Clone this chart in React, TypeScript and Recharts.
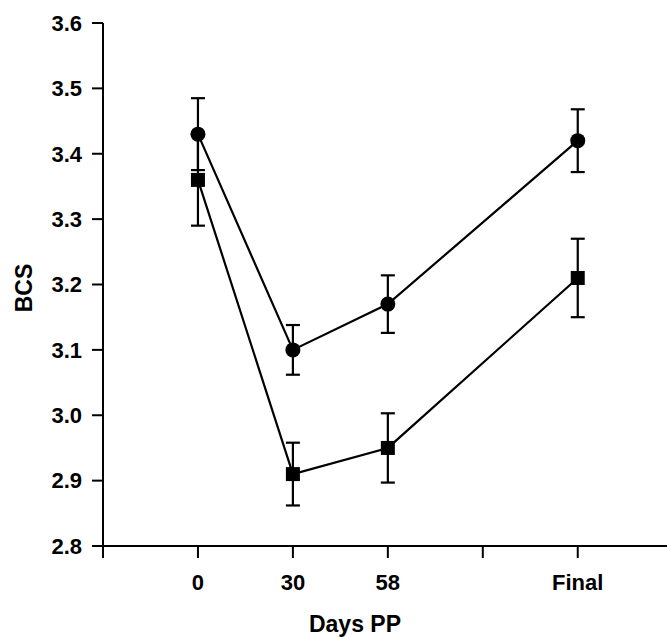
import React from "react";
import {
  LineChart,
  Line,
  XAxis,
  YAxis,
  ErrorBar,
  Label,
} from "recharts";

// x positions on the axis (slot 3 is an unlabeled tick)
const dayLabels = ["0", "30", "58", "Final"];
const dayIndex = [0, 1, 2, 4];
const tickLabels = ["", "0", "30", "58", "", "Final"];
const yTicks = [2.8, 2.9, 3.0, 3.1, 3.2, 3.3, 3.4, 3.5, 3.6];

// circles (upper line)
const circleMeans = [3.43, 3.1, 3.17, 3.42];
const circleErr = [0.055, 0.038, 0.044, 0.048];
// squares (lower line)
const squareMeans = [3.36, 2.91, 2.95, 3.21];
const squareErr = [0.07, 0.048, 0.053, 0.06];

const data = dayLabels.map((d, i) => ({
  day: d,
  x: dayIndex[i],
  circle: circleMeans[i],
  circleErr: circleErr[i],
  square: squareMeans[i],
  squareErr: squareErr[i],
}));

const font = "'Liberation Sans', Arial, Helvetica, sans-serif";

const CircleDot = (props: any) => (
  <circle key={"c" + props.index} cx={props.cx} cy={props.cy} r={7.5} fill="#000" />
);

const SquareDot = (props: any) => (
  <rect
    key={"s" + props.index}
    x={props.cx - 7}
    y={props.cy - 7}
    width={14}
    height={14}
    fill="#000"
  />
);

export default function App() {
  return (
    <div style={{ position: "absolute", left: 0, top: 0, background: "#fff", fontFamily: font }}>
      <LineChart
        width={667}
        height={638}
        data={data}
        margin={{ top: 23, right: 0, bottom: 0, left: 0 }}
      >
        <XAxis
          type="number"
          dataKey="x"
          domain={[-1, 4.94]}
          ticks={[-1, 0, 1, 2, 3, 4]}
          interval={0}
          allowDataOverflow
          tickFormatter={(v: number) => tickLabels[v + 1]}
          height={92}
          tickSize={12}
          tickMargin={16}
          axisLine={{ stroke: "#000", strokeWidth: 2 }}
          tickLine={{ stroke: "#000", strokeWidth: 2 }}
          tick={{ fill: "#000", fontSize: 22, fontWeight: "bold", fontFamily: font }}
        >
          <Label
            content={() => (
              <text
                x={355}
                y={632}
                textAnchor="middle"
                fontSize={23}
                fontWeight="bold"
                fontFamily={font}
                fill="#000"
              >
                Days PP
              </text>
            )}
          />
        </XAxis>
        <YAxis
          type="number"
          domain={[2.8, 3.6]}
          ticks={yTicks}
          interval={0}
          width={103}
          tickSize={11}
          tickMargin={10}
          tickFormatter={(v: number) => v.toFixed(1)}
          axisLine={{ stroke: "#000", strokeWidth: 2 }}
          tickLine={{ stroke: "#000", strokeWidth: 2 }}
          tick={{ fill: "#000", fontSize: 22, fontWeight: "bold", fontFamily: font }}
        >
          <Label
            content={() => (
              <text
                x={0}
                y={0}
                transform="translate(32,288) rotate(-90)"
                textAnchor="middle"
                fontSize={23}
                fontWeight="bold"
                fontFamily={font}
                fill="#000"
              >
                BCS
              </text>
            )}
          />
        </YAxis>
        <Line
          dataKey="circle"
          stroke="#000"
          strokeWidth={2.2}
          dot={CircleDot}
          activeDot={false}
          isAnimationActive={false}
        >
          <ErrorBar dataKey="circleErr" width={7} stroke="#000" strokeWidth={2.2} />
        </Line>
        <Line
          dataKey="square"
          stroke="#000"
          strokeWidth={2.2}
          dot={SquareDot}
          activeDot={false}
          isAnimationActive={false}
        >
          <ErrorBar dataKey="squareErr" width={7} stroke="#000" strokeWidth={2.2} />
        </Line>
      </LineChart>
    </div>
  );
}
